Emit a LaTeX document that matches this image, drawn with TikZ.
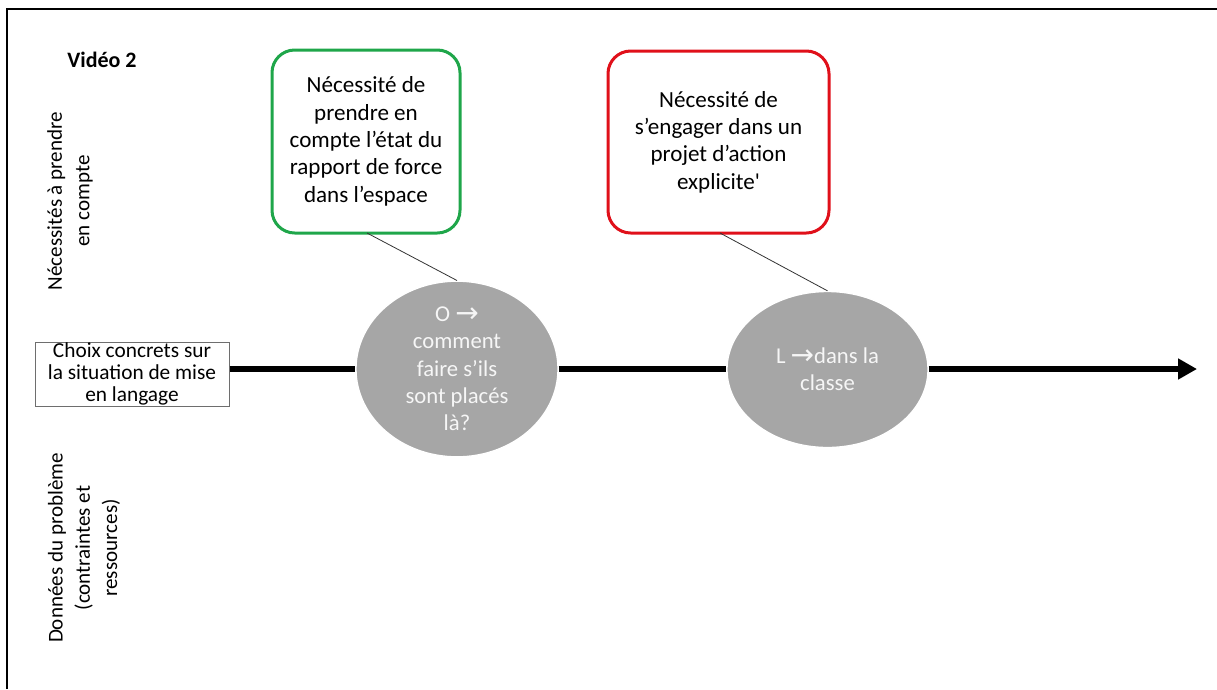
\documentclass[tikz,border=0pt]{standalone}
\usepackage{fontspec}
\setmainfont{Carlito}
\newfontfamily\rawfont{Carlito}[Ligatures=TeXOff]
\newfontfamily\arrowfont{DejaVu Sans}
\usetikzlibrary{shapes.geometric,arrows.meta}
\definecolor{okgreen}{HTML}{1FA64A}
\definecolor{badred}{HTML}{E0101A}
\definecolor{ellgray}{HTML}{A6A6A6}
\definecolor{elltext}{HTML}{F6F6F6}
\definecolor{boxgray}{HTML}{6E6E6E}
\newcommand{\bigarrow}{{\arrowfont\fontsize{21}{20.5}\selectfont\raisebox{-0.5pt}{→}}}
\begin{document}
\begin{tikzpicture}[x=0.75pt,y=-0.75pt,
  needbox/.style={draw, rounded corners=17pt, line width=2.25pt, fill=white,
    align=center, inner sep=0pt, text=black,
    font=\fontsize{17.3}{20.5}\selectfont},
  choice/.style={ellipse, fill=ellgray, draw=white, line width=1pt, inner sep=0pt,
    minimum width=151.5pt, minimum height=117pt, align=center, text=elltext,
    font=\fontsize{17}{20.5}\selectfont},
  sidelabel/.style={rotate=90, align=center, inner sep=0pt,
    font=\fontsize{15.8}{20.5}\selectfont},
  mainline/.style={line width=4.5pt},
  thinlink/.style={line width=0.6pt, draw=black!80}
]
\useasboundingbox (0,0) rectangle (1217,689);
% frame
\draw[line width=1.5pt] (7,689) -- (7,9) -- (1217,9);

% titles and side labels
\node[font=\bfseries\fontsize{16.5}{20}\selectfont, inner sep=0pt] (title) at (102,60) {Vidéo 2};
\node[sidelabel] (needs) at (70,201) {Nécessités à prendre\\en compte};
\node[sidelabel] (data) at (84,548) {Données du problème\\(contraintes et\\ressources)};

% choice box
\node[draw=boxgray, line width=0.75pt, minimum width=145.5pt, minimum height=48pt,
  inner sep=0pt, align=center, font=\fontsize{16}{16.3}\selectfont] (choix) at (132,374)
  {Choix concrets sur\\la situation de mise\\en langage};

% necessity boxes
\node[needbox, draw=okgreen, minimum width=141pt, minimum height=137.25pt] (gbox) at (366,141.5)
  {Nécessité de\\prendre en\\compte l’état du\\rapport de force\\dans l’espace};
\node[needbox, draw=badred, minimum width=165.75pt, minimum height=136.5pt] (rbox) at (718.5,142)
  {Nécessité de\\s’engager dans un\\projet d’action\\explicite{\rawfont '}};

% ellipses
\node[choice] (e1) at (457,369)
  {O \bigarrow\\comment\\faire s’ils\\sont placés\\là?};
\node[choice, minimum width=150.75pt] (e2) at (827.5,369.5)
  {L \bigarrow dans la\\classe};

% main arrow
\coordinate (tip) at (1197,369);
\draw[mainline] (choix.east |- e1.west) -- (e1.west);
\draw[mainline] (e1.east) -- (e2.west |- e1.east);
\draw[mainline, -{Triangle[length=14.25pt,width=15pt]}] (e2.east |- e1.east) -- (tip);

% thin links
\coordinate (gfoot) at (367,233);
\coordinate (rfoot) at (720,233);
\draw[thinlink] (gfoot) -- (e1.north);
\draw[thinlink] (rfoot) -- (e2.north);
\end{tikzpicture}
\end{document}
